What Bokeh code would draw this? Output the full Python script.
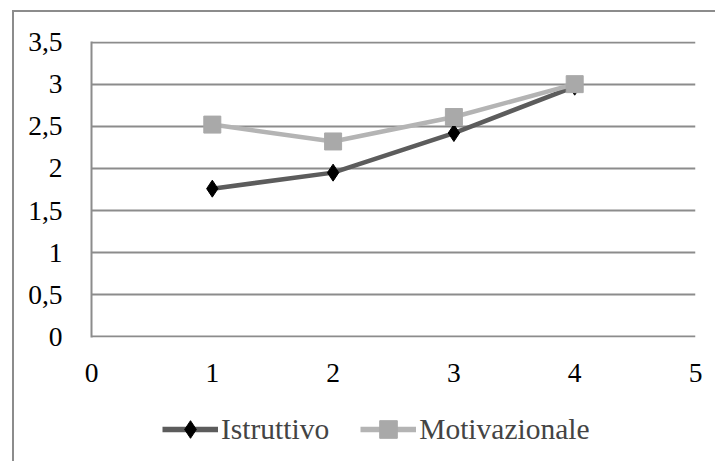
from bokeh.plotting import figure
from bokeh.layouts import column
from bokeh.models import (Range1d, FixedTicker, CustomJSTickFormatter, Legend,
                          LegendItem)
from bokeh.embed import file_html
from bokeh.resources import INLINE

x_vals = [1, 2, 3, 4]
istruttivo = [1.76, 1.95, 2.42, 2.97]
motivazionale = [2.52, 2.32, 2.61, 3.0]
x_ticks = [0, 1, 2, 3, 4, 5]
y_ticks = [0, 0.5, 1, 1.5, 2, 2.5, 3, 3.5]
series_names = ["Istruttivo", "Motivazionale"]

FONT = "Liberation Serif"
GRID = "#8c8c8c"
C1_LINE, C1_MARK = "#5c5c5c", "black"
C2_LINE, C2_MARK = "#b4b4b4", "#a9a9a9"

# ---- main chart ----
p = figure(width=701, height=388, output_backend="svg", toolbar_location=None,
           x_range=Range1d(0, 5), y_range=Range1d(-0.006, 3.506),
           min_border_left=77, min_border_right=20, min_border_top=29,
           min_border_bottom=63)
p.outline_line_color = None
p.background_fill_color = "white"
p.border_fill_color = "white"

p.xaxis.ticker = FixedTicker(ticks=x_ticks)
p.yaxis.ticker = FixedTicker(ticks=y_ticks)
fmt = CustomJSTickFormatter(code="return tick.toString().replace('.', ',');")
p.xaxis.formatter = fmt
p.yaxis.formatter = fmt
for ax in (p.xaxis, p.yaxis):
    ax.major_tick_line_color = None
    ax.minor_tick_line_color = None
    ax.major_label_text_font = FONT
    ax.major_label_text_font_size = "27.5px"
    ax.major_label_text_color = "black"
p.xaxis.axis_line_color = None
p.yaxis.axis_line_color = GRID
p.yaxis.axis_line_width = 2
p.xaxis.major_label_standoff = 20
p.yaxis.major_label_standoff = 23

p.xgrid.grid_line_color = None
p.ygrid.grid_line_color = GRID
p.ygrid.grid_line_width = 2

p.line(x_vals, istruttivo, line_color=C1_LINE, line_width=4.5)
p.scatter(x_vals, istruttivo, marker="diamond", size=17,
          fill_color=C1_MARK, line_color=C1_MARK)
p.line(x_vals, motivazionale, line_color=C2_LINE, line_width=4.5)
p.scatter(x_vals, motivazionale, marker="square", size=17,
          fill_color=C2_MARK, line_color=C2_MARK)

# ---- legend strip (series drawn off-range; only their legend glyphs show) ----
lg = figure(width=701, height=61, output_backend="svg", toolbar_location=None,
            x_range=Range1d(-20, -19), y_range=Range1d(-20, -19),
            x_axis_location=None, y_axis_location=None,
            min_border_left=0, min_border_right=0, min_border_top=0,
            min_border_bottom=0)
lg.outline_line_color = None
lg.xgrid.grid_line_color = None
lg.ygrid.grid_line_color = None
k1 = lg.line(x_vals, istruttivo, line_color=C1_LINE, line_width=5.5)
m1 = lg.scatter(x_vals, istruttivo, marker="diamond",
                fill_color=C1_MARK, line_color=C1_MARK)
k2 = lg.line(x_vals, motivazionale, line_color=C2_LINE, line_width=5.5)
m2 = lg.scatter(x_vals, motivazionale, marker="square",
                fill_color=C2_MARK, line_color=C2_MARK)

legend = Legend(items=[LegendItem(label=series_names[0], renderers=[k1, m1]),
                       LegendItem(label=series_names[1], renderers=[k2, m2])],
                orientation="horizontal", location=(71, 10),
                border_line_color=None, background_fill_alpha=0,
                label_text_font=FONT, label_text_font_size="29.5px",
                glyph_width=56, glyph_height=44, label_standoff=3,
                spacing=31, padding=0, margin=0)
lg.add_layout(legend, "center")

layout = column(p, lg, margin=(10, 0, 0, 12),
                styles={"border-left": f"2px solid {GRID}",
                        "border-top": f"2px solid {GRID}"})

open("out.html", "w").write(file_html(layout, INLINE))
